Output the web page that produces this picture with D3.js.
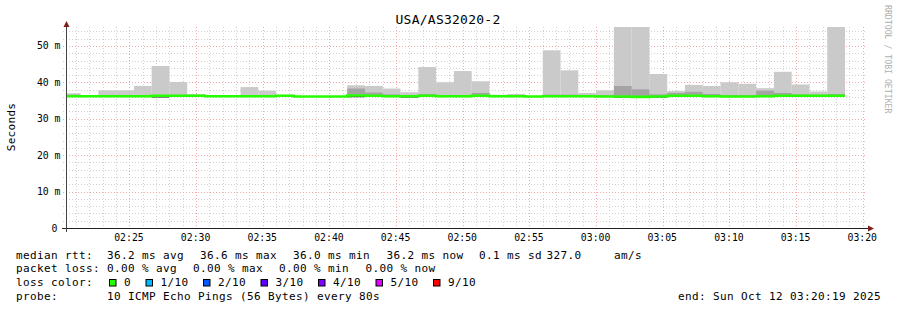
<!DOCTYPE html>
<html>
<head>
<meta charset="utf-8">
<script src="https://cdn.jsdelivr.net/npm/d3@7"></script>
<style>
body{margin:0;background:#fff}
svg{display:block;font-family:"DejaVu Sans Mono",monospace}
</style>
</head>
<body>
<svg id="chart" width="897" height="310"></svg>
<script>
var title = "USA/AS32020-2"
var stepSeconds = 80
// each step is one 80s round of 10 pings, first one starts 02:20:00
var maxRtt = [37.0,36.4,37.8,37.8,39.0,44.5,40.1,36.8,36.3,36.5,
              38.7,37.7,36.6,36.2,36.2,36.2,39.2,39.0,38.3,37.3,
              44.2,40.0,43.1,40.3,36.6,36.8,36.2,48.8,43.3,37.1,
              37.8,58.0,58.0,42.3,37.6,39.3,39.0,40.0,39.6,38.4,
              42.9,39.4,37.5,58.0]
var p9Rtt = [36.6,36.3,36.4,36.4,36.5,36.5,36.6,36.4,36.2,36.3,
             36.5,36.4,36.4,36.1,36.1,36.1,38.3,37.2,36.7,36.5,
             36.8,36.4,36.5,37.1,36.3,36.4,36.1,36.6,36.6,36.4,
             36.5,39.0,38.1,36.7,37.1,37.4,36.8,36.5,36.5,37.7,
             37.1,36.7,36.6,36.8]
var medianRtt = [36.2,36.2,36.2,36.2,36.2,36.3,36.3,36.3,36.2,36.2,
                 36.2,36.2,36.3,36.1,36.1,36.1,36.4,36.3,36.2,36.2,
                 36.3,36.2,36.2,36.3,36.2,36.2,36.1,36.2,36.2,36.2,
                 36.1,36.1,36.0,36.1,36.3,36.3,36.2,36.1,36.1,36.2,
                 36.3,36.3,36.3,36.3]
var minRtt = [36.1,36.1,36.1,36.1,36.1,35.8,36.2,36.2,36.1,36.1,
              36.1,36.1,36.2,36.0,36.0,36.0,35.9,36.2,36.1,35.8,
              36.2,36.1,36.1,36.2,36.1,36.1,36.0,36.1,36.1,36.1,
              36.0,35.8,35.8,35.8,36.2,36.2,36.1,36.0,36.0,36.1,
              36.2,36.2,36.2,36.2]

var yTicks = [0,10,20,30,40,50]
var yTickLabels = ["0","10 m","20 m","30 m","40 m","50 m"]
var lossLabels = ["0","1/10","2/10","3/10","4/10","5/10","9/10"]
var lossColors = ["#26ff00","#00b8ff","#0059ff","#5e00ff","#7e00ff","#dd00ff","#ff0000"]
var rttLine = [["median rtt:",16],["36.2 ms avg",107],["36.6 ms max",200],["36.0 ms min",293],
               ["36.2 ms now",386.5],["0.1 ms sd",479],["327.0",546.5],["am/s",614]]
var lossLine = [["packet loss:",16],["0.00 % avg",107],["0.00 % max",193],["0.00 % min",279],["0.00 % now",365.5]]
var probeText = "10 ICMP Echo Pings (56 Bytes) every 80s"
var endText = "end: Sun Oct 12 03:20:19 2025"

var plot = {left:67,right:867,top:27,bottom:228}
var t0 = new Date(2025,9,12,2,20,19)
var t1 = new Date(2025,9,12,3,20,19)
var firstStep = new Date(2025,9,12,2,20,0)

var stepStart = function(i){return new Date(firstStep.getTime()+i*stepSeconds*1000)}

var svg = d3.select("#chart")
var x = d3.scaleTime().domain([t0,t1]).range([plot.left,plot.right])
var y = d3.scaleLinear().domain([0,55.2]).range([plot.bottom,plot.top])

svg.append("defs").append("clipPath").attr("id","clip")
   .append("rect").attr("x",plot.left).attr("y",plot.top)
   .attr("width",plot.right-plot.left).attr("height",plot.bottom-plot.top)

// grid
var grid = svg.append("g").attr("shape-rendering","crispEdges")
var minorY = d3.range(2,55,2).filter(function(v){return v%10!=0})
grid.selectAll(".hmin").data(minorY).enter().append("line")
    .attr("x1",63).attr("x2",plot.right)
    .attr("y1",function(d){return Math.round(y(d))+0.5}).attr("y2",function(d){return Math.round(y(d))+0.5})
    .attr("stroke","#d2d2d2").attr("stroke-dasharray","1,2")
var minorX = d3.timeMinute.range(t0,t1).filter(function(d){return d.getMinutes()%5!=0})
grid.selectAll(".vmin").data(minorX).enter().append("line")
    .attr("x1",function(d){return Math.round(x(d))+0.5}).attr("x2",function(d){return Math.round(x(d))+0.5})
    .attr("y1",plot.top).attr("y2",plot.bottom+2)
    .attr("stroke","#d2d2d2").attr("stroke-dasharray","1,2")
grid.selectAll(".hmaj").data(yTicks.slice(1)).enter().append("line")
    .attr("x1",63).attr("x2",plot.right)
    .attr("y1",function(d){return Math.round(y(d))+0.5}).attr("y2",function(d){return Math.round(y(d))+0.5})
    .attr("stroke","#f4a8a8").attr("stroke-dasharray","1,2")
var majorX = d3.timeMinute.every(5).range(t0,t1)
grid.selectAll(".vmaj").data(majorX).enter().append("line")
    .attr("x1",function(d){return Math.round(x(d))+0.5}).attr("x2",function(d){return Math.round(x(d))+0.5})
    .attr("y1",plot.top).attr("y2",plot.bottom+3)
    .attr("stroke","#f4a8a8").attr("stroke-dasharray","1,2")

// smoke
var idx = d3.range(maxRtt.length)
var smoke = svg.append("g").attr("clip-path","url(#clip)")
var band = function(lo,hi,color)
{
    smoke.append("g").selectAll("rect").data(idx).enter().append("rect")
      .attr("x",function(i){return x(stepStart(i))})
      .attr("width",function(i){return x(stepStart(i+1))-x(stepStart(i))})
      .attr("y",function(i){return y(Math.max(lo[i],hi[i]))})
      .attr("height",function(i){return Math.abs(y(lo[i])-y(hi[i]))})
      .attr("fill",color)
}
band(medianRtt,maxRtt,"#cacaca")
band(medianRtt,p9Rtt,"#a4a4a4")
band(minRtt,medianRtt,"#484848")

var linePts = idx.map(function(i){return [stepStart(i),medianRtt[i]]})
linePts.push([stepStart(idx.length),medianRtt[idx.length-1]])
svg.append("path").attr("clip-path","url(#clip)")
   .attr("d",d3.line().curve(d3.curveStepAfter)
      .x(function(d){return x(d[0])}).y(function(d){return y(d[1])})(linePts))
   .attr("fill","none").attr("stroke",lossColors[0]).attr("stroke-width",2.6)

// axes
svg.append("line").attr("x1",62).attr("x2",870).attr("y1",plot.bottom+0.5).attr("y2",plot.bottom+0.5)
   .attr("stroke","#222")
svg.append("line").attr("x1",66.5).attr("x2",66.5).attr("y1",plot.bottom+4).attr("y2",24)
   .attr("stroke","#444")
svg.append("path").attr("d","M63.5,27 L66.5,21 L69.5,27 Z").attr("fill","#7f1f1f")
svg.append("path").attr("d","M868,225.5 L874,228.5 L868,231.5 Z").attr("fill","#7f1f1f")

svg.selectAll(".ylab").data(yTicks).enter().append("text")
   .attr("x",function(d,i){return i==0?57.5:60.5}).attr("y",function(d){return y(d)+3.5})
   .attr("text-anchor","end").attr("font-size",9.8).attr("fill","#000")
   .text(function(d,i){return yTickLabels[i]})
var fmt = d3.timeFormat("%H:%M")
svg.selectAll(".xlab").data(majorX).enter().append("text")
   .attr("x",function(d){return x(d)-0.5}).attr("y",241)
   .attr("text-anchor","middle").attr("font-size",9.8).attr("fill","#000")
   .text(fmt)

// titles
svg.append("text").attr("x",448).attr("y",24).attr("text-anchor","middle")
   .attr("font-size",13).attr("letter-spacing",0.25).text(title)
svg.append("text").attr("transform","translate(14.5,127) rotate(-90)").attr("text-anchor","middle")
   .attr("font-size",11).attr("letter-spacing",0.3).text("Seconds")
svg.append("text").attr("transform","translate(884.5,5) rotate(90)")
   .attr("font-size",8.2).attr("fill","#b0b0b0").text("RRDTOOL / TOBI OETIKER")

// legend
var legend = svg.append("g").attr("font-size",11).attr("letter-spacing",0.38).attr("fill","#000")
var row = function(items,yy)
{
    legend.append("g").selectAll("text").data(items).enter().append("text")
      .attr("x",function(d){return d[1]}).attr("y",yy)
      .text(function(d){return d[0]})
}
row(rttLine,258.5)
row(lossLine,272.3)
legend.append("text").attr("x",16).attr("y",286).text("loss color:")
var bx = 109
lossLabels.forEach(function(lab,i)
{
    legend.append("rect").attr("x",bx+0.5).attr("y",279.5).attr("width",6.5).attr("height",6.5)
      .attr("fill",lossColors[i]).attr("stroke","#000").attr("stroke-width",1)
    legend.append("text").attr("x",bx+15).attr("y",286).text(lab)
    bx = bx+15+lab.length*7+14.5
})
legend.append("text").attr("x",16).attr("y",299.7).text("probe:")
legend.append("text").attr("x",107).attr("y",299.7).text(probeText)
legend.append("text").attr("x",881).attr("y",299.7).attr("text-anchor","end").text(endText)
</script>
</body>
</html>
